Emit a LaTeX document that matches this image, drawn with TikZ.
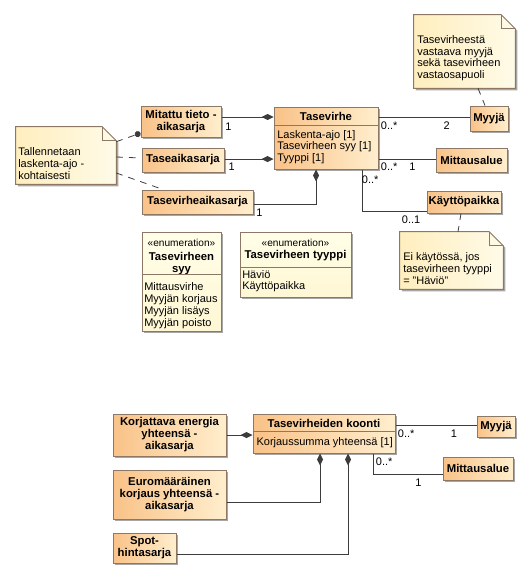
\documentclass[tikz,border=0pt]{standalone}
\usepackage{fontspec}
\setmainfont{Liberation Sans}
\usetikzlibrary{arrows.meta,shadows,calc}
\definecolor{clsL}{RGB}{249,194,136}
\definecolor{clsR}{RGB}{255,238,205}
\definecolor{noteL}{RGB}{255,238,190}
\definecolor{noteR}{RGB}{255,251,232}
\definecolor{enumT}{RGB}{255,254,232}
\definecolor{enumB}{RGB}{255,247,212}
\definecolor{brd}{RGB}{140,120,100}
\definecolor{lnc}{RGB}{60,60,60}
\newcommand\fnt{\fontsize{8.25}{8.8}\selectfont}
\newcommand\bfnt{\fontsize{8.5}{9}\selectfont\bfseries}
\newcommand\notepath[1]{%
  \path[notefill] (#1.south west) -- (#1.north west) -- ([xshift=-10.5pt]#1.north east)
     -- ([yshift=-10.5pt]#1.north east) -- (#1.south east) -- cycle;
  \draw[draw=brd,line width=0.75pt] ([xshift=-10.5pt]#1.north east) -- ([xshift=-10.5pt,yshift=-10.5pt]#1.north east) -- ([yshift=-10.5pt]#1.north east);}
\begin{document}
\begin{tikzpicture}[x=0.75pt,y=-0.75pt,
  every node/.style={font=\fnt},
  sz/.style 2 args={minimum width=#1*0.75pt, minimum height=#2*0.75pt, inner sep=0pt},
  shd/.style={drop shadow={shadow xshift=1.6pt,shadow yshift=-1.6pt,opacity=0.35,fill=black}},
  cls/.style={draw=brd, line width=0.75pt, left color=clsL, right color=clsR, shd, align=center, font=\bfnt},
  enumbox/.style={draw=brd, line width=0.75pt, top color=enumT, bottom color=enumB, shd},
  notefill/.style={draw=brd, line width=0.75pt, left color=noteL, right color=noteR, shd},
  txt/.style={inner sep=0pt, align=left, font=\fnt},
  ttl/.style={inner sep=0pt, align=center, font=\bfnt},
  lbl/.style={inner sep=0pt, anchor=west, font=\fnt},
  brdline/.style={draw=brd, line width=0.75pt},
  conn/.style={draw=lnc, line width=0.75pt},
  comp/.style={conn, -{Diamond[length=9pt,width=4.5pt]}},
  notel/.style={draw=lnc, line width=0.6pt, dash pattern=on 5pt off 4.5pt},
]
\useasboundingbox (0,0) rectangle (530,578);

% ---------- top part: classes ----------
\node[cls,sz={80}{31}] (mit) at (181,121.5) {Mitattu tieto -\\aikasarja};
\node[cls,sz={82}{24}] (tase) at (183,160) {Taseaikasarja};
\node[cls,sz={111}{24}] (tva) at (197.5,202) {Tasevirheaikasarja};
\node[cls,sz={104}{62}] (tv) at (326,138) {};
\node[ttl] (tvT) at (326,116) {Tasevirhe};
\draw[brdline] (tv.west |- 0,125) -- (tv.east |- 0,125);
\node[txt,anchor=north west] (tvA) at (277,129.8) {Laskenta-ajo [1]\\Tasevirheen syy [1]\\Tyyppi [1]};
\node[cls,sz={38}{25}] (my) at (489,118.5) {Myyjä};
\node[cls,sz={71}{24}] (ma) at (471.5,160) {Mittausalue};
\node[cls,sz={74}{22}] (kp) at (464,202) {Käyttöpaikka};

% ---------- notes ----------
\node[sz={100}{57}] (n1) at (66,155.5) {};
\notepath{n1}
\node[txt,anchor=north west] (n1t) at (18,147.4) {Tallennetaan\\laskenta-ajo -\\kohtaisesti};
\node[sz={101}{73}] (n2) at (464.5,51.5) {};
\notepath{n2}
\node[txt,anchor=north west] (n2t) at (417,35.1) {Tasevirheestä\\vastaava myyjä\\sekä tasevirheen\\vastaosapuoli};
\node[sz={103}{57}] (n3) at (451.5,260.5) {};
\notepath{n3}
\node[txt,anchor=north west,font=\fontsize{8.25}{9.1}\selectfont] (n3t) at (403,252.4) {Ei käytössä, jos\\tasevirheen tyyppi\\= "Häviö"};

% ---------- enumerations ----------
\node[enumbox,sz={79}{99}] (es) at (181.5,281.5) {};
\node[inner sep=0pt,font=\fontsize{7.6}{8}\selectfont] (esS) at (181.5,242.5) {«enumeration»};
\node[ttl,anchor=north] (esT) at (181.5,251.8) {Tasevirheen\\syy};
\draw[brdline] (es.west |- 0,274) -- (es.east |- 0,274);
\node[txt,anchor=north west,font=\fontsize{8.25}{9.1}\selectfont] (esL) at (144,281.8) {Mittausvirhe\\Myyjän korjaus\\Myyjän lisäys\\Myyjän poisto};

\node[enumbox,sz={111}{65}] (et) at (295.5,264.5) {};
\node[inner sep=0pt,font=\fontsize{7.6}{8}\selectfont] (etS) at (295.5,242.5) {«enumeration»};
\node[ttl] (etT) at (295.5,256) {Tasevirheen tyyppi};
\draw[brdline] (et.west |- 0,267) -- (et.east |- 0,267);
\node[txt,anchor=north west] (etL) at (242,269.8) {Häviö\\Käyttöpaikka};

% ---------- top connectors ----------
\draw[comp] (mit.east |- 0,117) -- (tv.west |- 0,117);
\draw[comp] (tase.east |- 0,159) -- (tv.west |- 0,159);
\draw[comp] (tva.east |- 0,204) -| (tv.south -| 316,0);
\draw[conn] (tv.east |- 0,117) -- (my.west |- 0,117);
\draw[conn] (tv.east |- 0,159) -- (ma.west |- 0,159);
\draw[conn] (tv.south -| 362,0) |- (kp.west |- 0,211);

\draw[notel,-{Circle[length=4.5pt]}] (n1.east |- 0,141.7) -- ([yshift=3.3pt]mit.south west);
\draw[notel] (n1.east |- 0,157) -- (tase.west |- 0,158);
\draw[notel] (n1.east |- 0,173) -- (tva.north -| 163,0);
\draw[notel] (n2.south -| 478,0) -- (my.north -| 485,0);
\draw[notel] (kp.south -| 461,0) -- (n3.north -| 458,0);

\node[lbl] (l1) at (225,126.7) {1};
\node[lbl] (l2) at (228.3,166.7) {1};
\node[lbl] (l3) at (256,212.3) {1};
\node[lbl] (l4) at (380.7,126) {0..*};
\node[lbl] (l5) at (443.3,126) {2};
\node[lbl] (l6) at (380.7,166.7) {0..*};
\node[lbl] (l7) at (409,166.7) {1};
\node[lbl] (l8) at (361.7,179.3) {0..*};
\node[lbl] (l9) at (401.7,220) {0..1};

% ---------- bottom part ----------
\node[cls,sz={113}{42}] (kor) at (169.5,435) {Korjattava energia\\yhteensä -\\aikasarja};
\node[cls,sz={142}{39}] (ko) at (324,433.5) {};
\node[ttl] (koT) at (324,423.5) {Tasevirheiden koonti};
\draw[brdline] (ko.west |- 0,431) -- (ko.east |- 0,431);
\node[txt,anchor=west] (koA) at (256.3,442.3) {Korjaussumma yhteensä [1]};
\node[cls,sz={113}{49}] (eu) at (169.5,494.5) {Euromääräinen\\korjaus yhteensä -\\aikasarja};
\node[cls,sz={63}{30}] (sp) at (144.5,548) {Spot-\\hintasarja};
\node[cls,sz={38}{21}] (my2) at (496,426.5) {Myyjä};
\node[cls,sz={70}{23}] (ma2) at (478,468.5) {Mittausalue};

\draw[comp] (kor.east |- 0,435) -- (ko.west |- 0,435);
\draw[comp] (eu.east |- 0,502) -| (ko.south -| 320,0);
\draw[comp] (sp.east |- 0,554) -| (ko.south -| 348,0);
\draw[conn] (ko.east |- 0,425) -- (my2.west |- 0,425);
\draw[conn] (ko.south -| 373,0) |- (ma2.west |- 0,474);

\node[lbl] (l10) at (397.7,433.3) {0..*};
\node[lbl] (l11) at (450.7,433.3) {1};
\node[lbl] (l12) at (375.7,461.7) {0..*};
\node[lbl] (l13) at (415,482.7) {1};
\end{tikzpicture}
\end{document}
